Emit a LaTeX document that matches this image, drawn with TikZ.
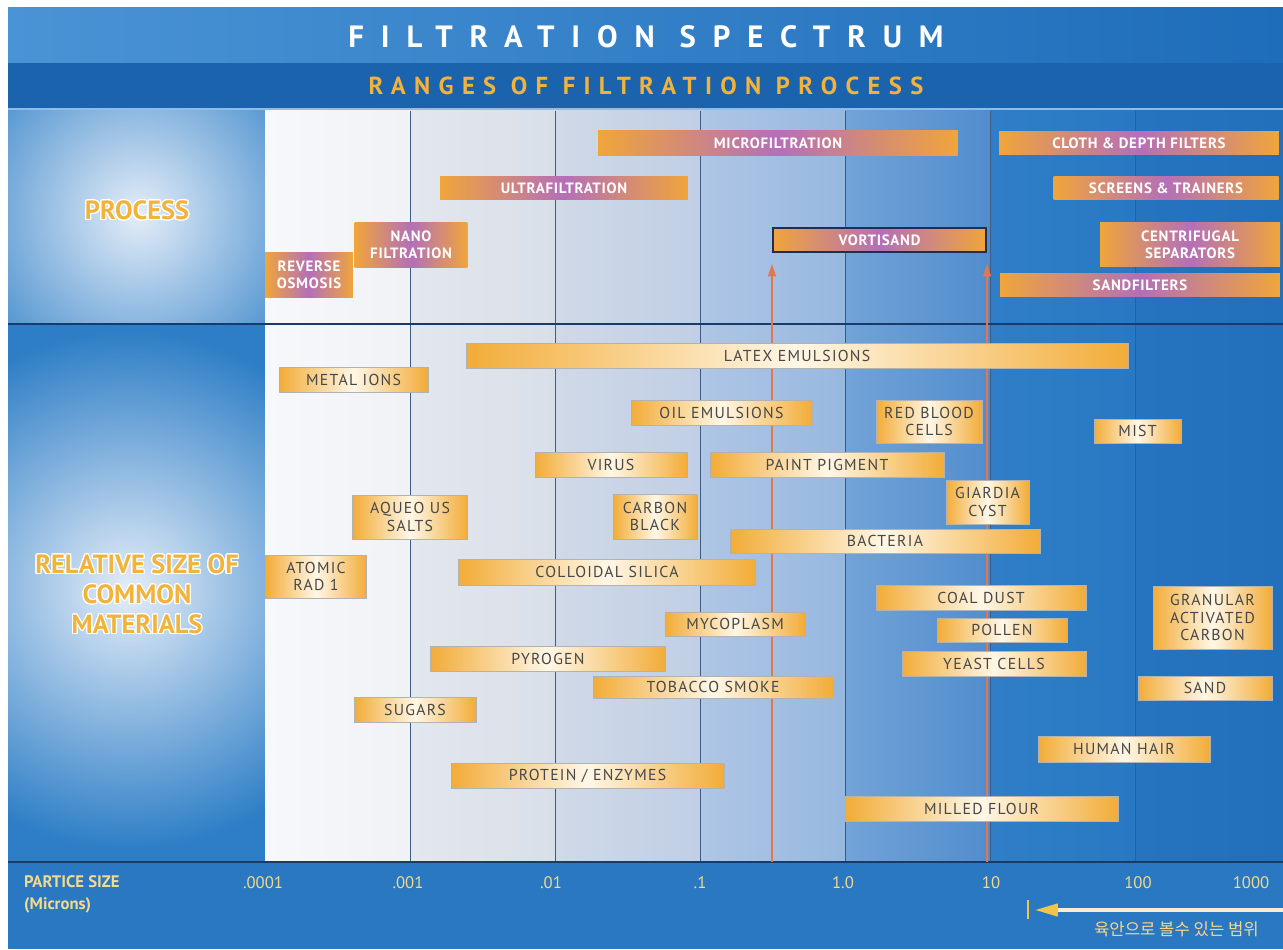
\documentclass[tikz,border=0pt]{standalone}
\usepackage{fontspec}
\setmainfont{PT Sans}
\newfontfamily\krfont{Noto Sans CJK KR}
\usepackage{contour}
\contourlength{0.7pt}
\usepackage{tikz}
\usetikzlibrary{arrows.meta,positioning,calc}
\definecolor{filtbase}{HTML}{2A78C2}
\definecolor{filtpanel}{HTML}{2D7EC6}
\definecolor{glowwhite}{HTML}{E4EDF8}
\definecolor{titleleft}{HTML}{4A93D5}
\definecolor{titleright}{HTML}{1E6DBA}
\definecolor{subband}{HTML}{1B63AD}
\definecolor{lightline}{HTML}{8DBDE8}
\definecolor{gridline}{HTML}{3E5C82}
\definecolor{darkline}{HTML}{173C6A}
\definecolor{procorange}{HTML}{F0A53A}
\definecolor{procpurple}{HTML}{B46FB8}
\definecolor{matorange}{HTML}{F2AC38}
\definecolor{matcream}{HTML}{FFF7E6}
\definecolor{filttext}{HTML}{474747}
\definecolor{filtgold}{HTML}{F2B33C}
\definecolor{filtcream}{HTML}{F3D98C}
\definecolor{arrowred}{HTML}{E4764D}
\definecolor{vortline}{HTML}{1E2E55}
\definecolor{eyegold}{HTML}{F2C548}
\definecolor{eyeline}{HTML}{F6EED2}
\definecolor{colAl}{HTML}{F7F8FA}\definecolor{colAr}{HTML}{F0F2F6}
\definecolor{colBl}{HTML}{E3E7EE}\definecolor{colBr}{HTML}{D9DFE9}
\definecolor{colCl}{HTML}{D0D9E7}\definecolor{colCr}{HTML}{C0CFE5}
\definecolor{colDl}{HTML}{AFC6E5}\definecolor{colDr}{HTML}{97B8DF}
\definecolor{colEl}{HTML}{72A3D8}\definecolor{colEr}{HTML}{518DCD}
\definecolor{colFl}{HTML}{2F7EC7}\definecolor{colFr}{HTML}{2978C3}
\definecolor{colGl}{HTML}{2674BF}\definecolor{colGr}{HTML}{2270BB}

\begin{document}
\begin{tikzpicture}[
  x=0.02cm,y=-0.02cm,
  font=\fontsize{9}{10}\selectfont,
  procbar/.style={inner sep=0pt,align=center,text=white,
    font=\fontsize{8.5}{9.5}\selectfont\bfseries\addfontfeatures{LetterSpace=5},
    left color=procorange,right color=procorange,middle color=procpurple},
  matbar/.style={inner sep=0pt,align=center,text=filttext,draw=black!30,line width=0.3pt,
    font=\fontsize{9}{10}\selectfont\addfontfeatures{LetterSpace=8},
    left color=matorange,right color=matorange,middle color=matcream},
  sidelabel/.style={text=filtgold,align=center,font=\fontsize{15}{17}\selectfont\bfseries},
  ticklabel/.style={text=filtcream,font=\fontsize{9.5}{11}\selectfont},
  gridrule/.style={gridline,line width=0.5pt},
  bandrule/.style={darkline,line width=1.2pt},
  redarrow/.style={arrowred,line width=0.9pt,-{Triangle[length=7pt,width=4.5pt]},shorten >=0.22cm},
  eyearrow/.style={eyeline,line width=2pt,-{Triangle[length=13pt,width=7pt,color=eyegold]}}
]
\useasboundingbox (0,0) rectangle (1283,949);
\fill[white] (0,0) rectangle (1283,949);
\fill[filtbase] (8,8) rectangle (1283,949);

% title bands
\shade[left color=titleleft,right color=titleright] (8,8) rectangle (1283,63);
\fill[subband] (8,63) rectangle (1283,108);
\draw[lightline,line width=1.4pt] (8,109.5) -- (1283,109.5);
\node[text=white,font=\fontsize{17.5}{20}\selectfont\bfseries\addfontfeatures{LetterSpace=55}] (title) at (646,37) {FILTRATION SPECTRUM};
\node[text=filtgold,font=\fontsize{14}{16}\selectfont\bfseries\addfontfeatures{LetterSpace=34}] (subtitle) at (646,86) {RANGES OF FILTRATION PROCESS};

% left panel
\fill[filtpanel] (8,111) rectangle (265,862);
\begin{scope}
  \clip (8,111) rectangle (265,324);
  \shade[inner color=glowwhite,outer color=filtpanel] (138,214) circle[radius=220];
\end{scope}
\begin{scope}
  \clip (8,324) rectangle (265,862);
  \shade[inner color=glowwhite,outer color=filtpanel] (128,590) circle[radius=260];
\end{scope}
\node[sidelabel] (proclabel) at (137,211) {\contour{white}{PROCESS}};
\node[sidelabel] (matlabel) at (137,595) {\contour{white}{RELATIVE SIZE OF}\\\contour{white}{COMMON}\\\contour{white}{MATERIALS}};

% decade columns
\shade[left color=colAl,right color=colAr] (265,111) rectangle (410,862);
\shade[left color=colBl,right color=colBr] (410,111) rectangle (555,862);
\shade[left color=colCl,right color=colCr] (555,111) rectangle (700,862);
\shade[left color=colDl,right color=colDr] (700,111) rectangle (845,862);
\shade[left color=colEl,right color=colEr] (845,111) rectangle (990,862);
\shade[left color=colFl,right color=colFr] (990,111) rectangle (1135,862);
\shade[left color=colGl,right color=colGr] (1135,111) rectangle (1283,862);
\draw[gridrule] (410,111) -- (410,862);
\draw[gridrule] (555,111) -- (555,862);
\draw[gridrule] (700,111) -- (700,862);
\draw[gridrule] (845,111) -- (845,862);
\draw[gridrule] (990,111) -- (990,862);
\draw[gridrule] (1135,111) -- (1135,862);
\draw[bandrule] (8,324) -- (1283,324);
\draw[bandrule] (8,862) -- (1283,862);

% process ranges
\node[procbar,minimum width=7.2cm,minimum height=0.5cm] (micro) at (778,143) {MICROFILTRATION};
\node[procbar,minimum width=4.96cm,minimum height=0.48cm] (ultra) at (564,188) {ULTRAFILTRATION};
\node[procbar,minimum width=2.26cm,minimum height=0.92cm] (nano) at (411,245) {NANO\\FILTRATION};
\node[procbar,minimum width=1.76cm,minimum height=0.92cm] (revosm) at (309,275) {REVERSE\\OSMOSIS};
\node[procbar,draw=vortline,line width=1.2pt,minimum width=4.26cm,minimum height=0.48cm] (vortis) at (879.5,240) {VORTISAND};
\node[procbar,minimum width=5.6cm,minimum height=0.46cm] (cloth) at (1139,143) {CLOTH \& DEPTH FILTERS};
\node[procbar,minimum width=4.5cm,minimum height=0.48cm] (screens) at (1166,188) {SCREENS \& TRAINERS};
\node[procbar,minimum width=3.6cm,minimum height=0.9cm] (centri) at (1190,244.5) {CENTRIFUGAL\\SEPARATORS};
\node[procbar,minimum width=5.6cm,minimum height=0.48cm] (sandfilt) at (1140,285) {SANDFILTERS};

% vortisand limits
\coordinate (base) at (265,862);
\draw[redarrow] (vortis.south west |- base) -- (vortis.south west);
\draw[redarrow] (vortis.south east |- base) -- (vortis.south east);

% materials
\node[matbar,minimum width=13.24cm,minimum height=0.5cm] (latex) at (797,355.5) {LATEX EMULSIONS};
\node[matbar,minimum width=2.98cm,minimum height=0.5cm] (metal) at (353.5,380) {METAL IONS};
\node[matbar,minimum width=3.62cm,minimum height=0.5cm] (oil) at (721.5,412.5) {OIL EMULSIONS};
\node[matbar,minimum width=2.12cm,minimum height=0.86cm] (rbc) at (929,421.5) {RED BLOOD\\CELLS};
\node[matbar,minimum width=1.74cm,minimum height=0.48cm] (mist) at (1137.5,431) {MIST};
\node[matbar,minimum width=3.04cm,minimum height=0.5cm] (virus) at (611,464.5) {VIRUS};
\node[matbar,minimum width=4.68cm,minimum height=0.5cm] (paint) at (827,464.5) {PAINT PIGMENT};
\node[matbar,minimum width=1.66cm,minimum height=0.88cm] (giardia) at (987.5,502) {GIARDIA\\CYST};
\node[matbar,minimum width=2.3cm,minimum height=0.88cm] (aqueous) at (410,517) {AQUEO US\\SALTS};
\node[matbar,minimum width=1.68cm,minimum height=0.9cm] (carbon) at (655,516.5) {CARBON\\BLACK};
\node[matbar,minimum width=6.2cm,minimum height=0.48cm] (bacteria) at (885,541) {BACTERIA};
\node[matbar,minimum width=2.02cm,minimum height=0.86cm] (atomic) at (316,576.5) {ATOMIC\\RAD 1};
\node[matbar,minimum width=5.94cm,minimum height=0.52cm] (silica) at (607,572) {COLLOIDAL SILICA};
\node[matbar,minimum width=4.2cm,minimum height=0.5cm] (coal) at (981,597.5) {COAL DUST};
\node[matbar,minimum width=2.38cm,minimum height=1.26cm] (gac) at (1212.5,617.5) {GRANULAR\\ACTIVATED\\CARBON};
\node[matbar,minimum width=2.8cm,minimum height=0.48cm] (myco) at (735,624) {MYCOPLASM};
\node[matbar,minimum width=2.6cm,minimum height=0.48cm] (pollen) at (1002,630) {POLLEN};
\node[matbar,minimum width=4.7cm,minimum height=0.5cm] (pyrogen) at (548,658.5) {PYROGEN};
\node[matbar,minimum width=3.68cm,minimum height=0.5cm] (yeast) at (994,663.5) {YEAST CELLS};
\node[matbar,minimum width=4.8cm,minimum height=0.44cm] (tobacco) at (713,687) {TOBACCO SMOKE};
\node[matbar,minimum width=2.68cm,minimum height=0.48cm] (sand) at (1205,688) {SAND};
\node[matbar,minimum width=2.44cm,minimum height=0.5cm] (sugars) at (415,709.5) {SUGARS};
\node[matbar,minimum width=3.44cm,minimum height=0.52cm] (hair) at (1124,749) {HUMAN HAIR};
\node[matbar,minimum width=5.46cm,minimum height=0.5cm] (protein) at (587.5,776) {PROTEIN / ENZYMES};
\node[matbar,minimum width=5.46cm,minimum height=0.5cm] (flour) at (981.5,808.5) {MILLED FLOUR};

% particle size scale
\node[anchor=west,align=left,text=filtcream,font=\fontsize{9.5}{12.5}\selectfont\bfseries] (psize) at (18,894) {PARTICE SIZE\\(Microns)};
\node[ticklabel] (t0) at (263,883) {.0001};
\node[ticklabel] (t1) at (408,883) {.001};
\node[ticklabel] (t2) at (551,883) {.01};
\node[ticklabel] (t3) at (700,883) {.1};
\node[ticklabel] (t4) at (843,883) {1.0};
\node[ticklabel] (t5) at (991,883) {10};
\node[ticklabel] (t6) at (1138,883) {100};
\node[ticklabel] (t7) at (1251,883) {1000};

% naked-eye range
\draw[eyegold,line width=1.3pt] (1028,900) -- (1028,919);
\coordinate (eyeR) at (1283,910);
\coordinate (eyeL) at (1035,910);
\draw[eyearrow] (eyeR) -- (eyeL);
\node[anchor=east,text=filtcream,font=\krfont\fontsize{9.5}{11}\selectfont] (eyenote) at (1265,929) {육안으로 볼수 있는 범위};
\end{tikzpicture}
\end{document}
